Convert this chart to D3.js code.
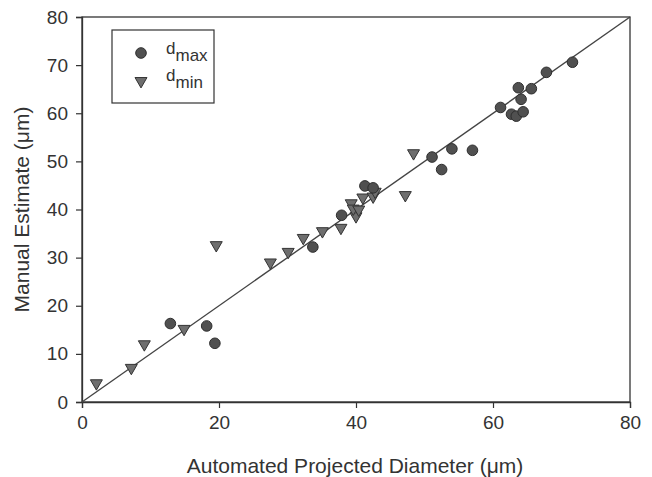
<!DOCTYPE html>
<html><head><meta charset="utf-8">
<script src="https://cdn.jsdelivr.net/npm/d3@7"></script>
<style>
body{margin:0;background:#fff;}
text{font-family:"Liberation Sans",Arial,sans-serif;fill:#333;}
</style></head>
<body><svg id="c" width="652" height="477"></svg>
<script>
const xTicks=[0,20,40,60,80];
const yTicks=[0,10,20,30,40,50,60,70,80];
const dmaxX=[12.9,18.2,19.4,33.7,37.9,41.3,42.5,51.1,52.5,54.0,57.0,61.1,62.7,63.4,64.4,64.1,63.7,65.6,67.8,71.6];
const dmaxY=[16.3,15.8,12.2,32.2,38.8,44.9,44.5,50.9,48.3,52.6,52.3,61.2,59.8,59.4,60.3,62.9,65.3,65.1,68.5,70.6];
const dminX=[2.1,7.2,9.1,14.9,19.6,27.5,30.1,32.3,35.1,37.8,40.0,39.3,39.6,40.4,41.0,42.5,42.8,47.2,48.4];
const dminY=[3.9,7.1,12.0,15.2,32.6,29.0,31.2,34.1,35.5,36.2,38.6,41.3,40.2,40.0,42.5,42.7,43.7,43.0,51.7];

const svg=d3.select("#c");
const L=82,R=630,T=17,B=402;
const x=d3.scaleLinear().domain([0,80]).range([L,R]);
const y=d3.scaleLinear().domain([0,80]).range([B,T]);

svg.append("rect").attr("x",L).attr("y",T).attr("width",R-L).attr("height",B-T)
  .attr("fill","none").attr("stroke","#333").attr("stroke-width",1.3);

const xa=svg.append("g").attr("transform",`translate(0,${B})`)
  .call(d3.axisBottom(x).tickValues(xTicks).tickSize(6).tickPadding(8).tickFormat(d3.format("d")));
const ya=svg.append("g").attr("transform",`translate(${L},0)`)
  .call(d3.axisLeft(y).tickValues(yTicks).tickSize(6).tickPadding(8).tickFormat(d3.format("d")));
[xa,ya].forEach(g=>{
  g.select(".domain").attr("stroke","#333").attr("stroke-width",1.3);
  g.selectAll(".tick line").attr("stroke","#333").attr("stroke-width",1.2);
  g.selectAll(".tick text").style("font-size","19px").attr("fill","#333");
});

svg.append("line").attr("x1",x(0)).attr("y1",y(0)).attr("x2",x(80)).attr("y2",y(80))
  .attr("stroke","#444").attr("stroke-width",1.4);

const tri=d3.symbol().type(d3.symbolTriangle).size(62);
svg.append("g").selectAll("path").data(dminX.map((v,i)=>[v,dminY[i]])).join("path")
  .attr("d",tri).attr("transform",d=>`translate(${x(d[0])},${y(d[1])}) rotate(180)`)
  .attr("fill","#6e6e6e").attr("stroke","#333").attr("stroke-width",1);
svg.append("g").selectAll("circle").data(dmaxX.map((v,i)=>[v,dmaxY[i]])).join("circle")
  .attr("cx",d=>x(d[0])).attr("cy",d=>y(d[1])).attr("r",5.3)
  .attr("fill","#505050").attr("stroke","#2e2e2e").attr("stroke-width",1);

svg.append("rect").attr("x",112).attr("y",30).attr("width",102).attr("height",73)
  .attr("fill","#fff").attr("stroke","#333").attr("stroke-width",1.2);
svg.append("circle").attr("cx",141).attr("cy",53).attr("r",5.3)
  .attr("fill","#505050").attr("stroke","#2e2e2e");
svg.append("path").attr("d",tri).attr("transform","translate(141,81) rotate(180)")
  .attr("fill","#6e6e6e").attr("stroke","#333");
const l1=svg.append("text").attr("x",166).attr("y",54).style("font-size","17px");
l1.append("tspan").text("d");
l1.append("tspan").attr("dy",7).text("max");
const l2=svg.append("text").attr("x",166).attr("y",81).style("font-size","17px");
l2.append("tspan").text("d");
l2.append("tspan").attr("dy",7).text("min");

svg.append("text").attr("x",(L+R)/2-1).attr("y",473).attr("text-anchor","middle")
  .style("font-size","21px").text("Automated Projected Diameter (\u03bcm)");
svg.append("text").attr("transform",`translate(29,${(T+B)/2}) rotate(-90)`).attr("text-anchor","middle")
  .style("font-size","21px").text("Manual Estimate (\u03bcm)");
</script></body></html>
